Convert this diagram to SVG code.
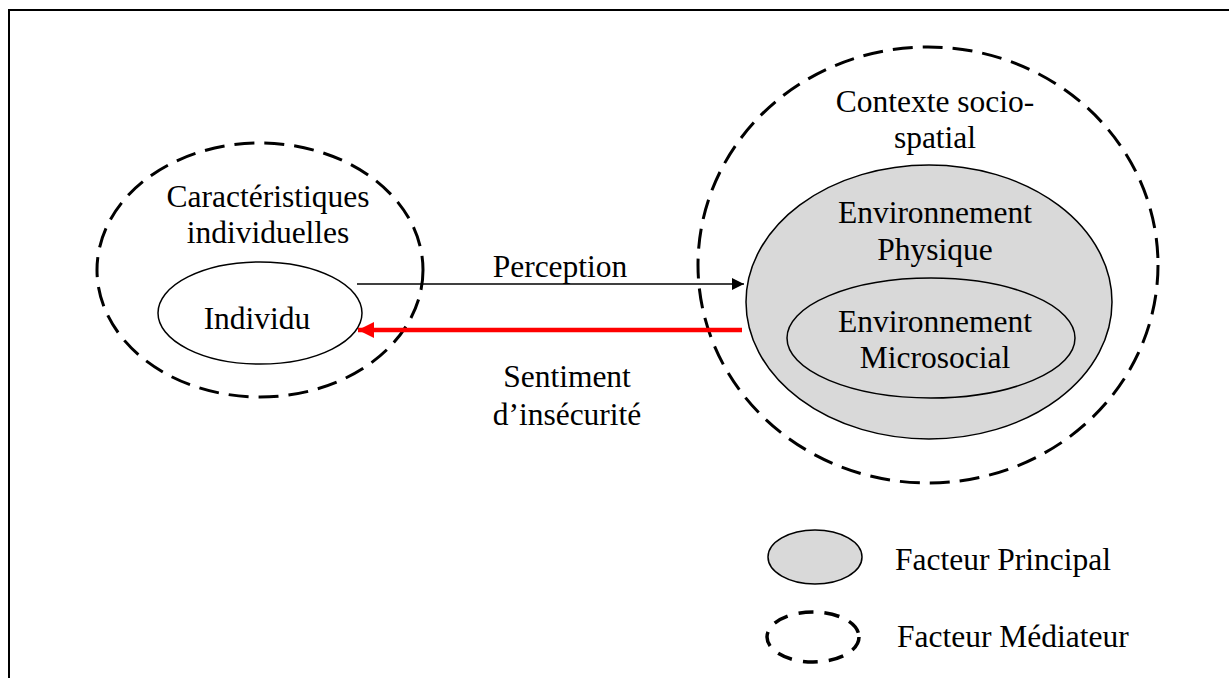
<svg xmlns="http://www.w3.org/2000/svg" width="1229" height="678" viewBox="0 0 1229 678">
<defs>
<style>
text{font-family:"Liberation Serif","Times New Roman",serif;font-size:31.5px;fill:#000;text-anchor:middle}
.lg{text-anchor:start}
.dash{fill:none;stroke:#000;stroke-width:3;stroke-dasharray:20 10}
.dash-s{fill:none;stroke:#000;stroke-width:3.5;stroke-dasharray:15 11}
.solid{fill:#fff;stroke:#000;stroke-width:1.5}
.gray{fill:#d9d9d9;stroke:#000;stroke-width:1.5}
</style>
<marker id="ab" viewBox="0 0 10 10" refX="10" refY="5" markerWidth="16" markerHeight="12" markerUnits="userSpaceOnUse" orient="auto"><path d="M0,0L10,5L0,10z" fill="#000"/></marker>
<marker id="ar" viewBox="0 0 10 10" refX="10" refY="5" markerWidth="18" markerHeight="16" markerUnits="userSpaceOnUse" orient="auto"><path d="M0,0L10,5L0,10z" fill="#ff0000"/></marker>
</defs>
<rect width="1229" height="678" fill="#fff"/>
<path d="M9,678V10H1229" fill="none" stroke="#000" stroke-width="2"/>
<g id="caracteristiques">
<ellipse class="dash" cx="260" cy="270" rx="163" ry="127"/>
<text x="268" y="207">Caractéristiques</text>
<text x="268" y="243">individuelles</text>
</g>
<g id="individu">
<ellipse class="solid" cx="260" cy="313" rx="102" ry="51"/>
<text x="257" y="329">Individu</text>
</g>
<g id="contexte">
<ellipse class="dash" cx="928" cy="265" rx="230" ry="218"/>
<text x="935" y="112">Contexte socio-</text>
<text x="935" y="148">spatial</text>
</g>
<g id="env-physique">
<ellipse class="gray" cx="929" cy="302" rx="183" ry="137"/>
<text x="935" y="223">Environnement</text>
<text x="935" y="260">Physique</text>
</g>
<g id="env-microsocial">
<ellipse class="gray" cx="931" cy="338" rx="144" ry="60"/>
<text x="935" y="332">Environnement</text>
<text x="935" y="368">Microsocial</text>
</g>
<g id="connectors">
<line x1="357" y1="284" x2="744" y2="284" stroke="#000" stroke-width="1.5" marker-end="url(#ab)"/>
<line x1="742" y1="330" x2="358" y2="330" stroke="#ff0000" stroke-width="4.5" marker-end="url(#ar)"/>
<text x="560" y="277">Perception</text>
<text x="567" y="387">Sentiment</text>
<text x="567" y="425">d’insécurité</text>
</g>
<g id="legend">
<ellipse class="gray" cx="815" cy="557" rx="47" ry="27" stroke-width="1"/>
<text class="lg" x="895" y="570">Facteur Principal</text>
<ellipse class="dash-s" cx="813" cy="637" rx="46" ry="25"/>
<text class="lg" x="897" y="647">Facteur Médiateur</text>
</g>
</svg>
